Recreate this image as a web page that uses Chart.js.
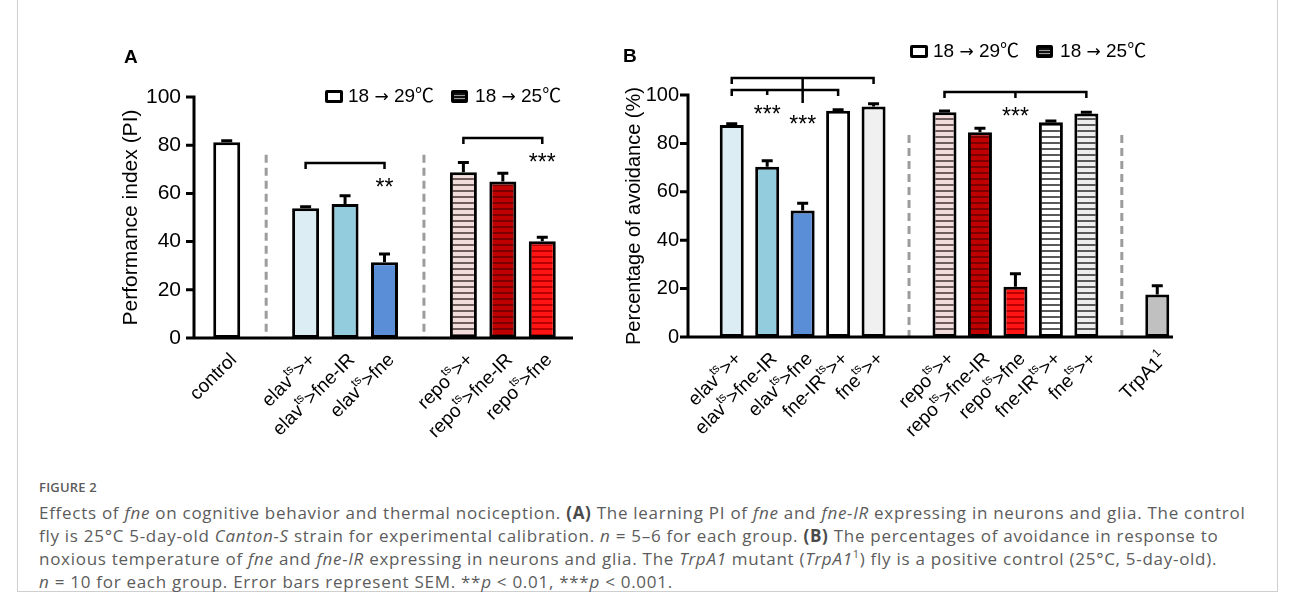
<!DOCTYPE html>
<html>
<head>
<meta charset="utf-8">
<script src="https://cdn.jsdelivr.net/npm/chart.js@4.4.0/dist/chart.umd.min.js"></script>
<style>
  body { margin: 0; background: #fff; }
  #page { position: relative; width: 1293px; height: 600px; overflow: hidden; font-family: 'Liberation Sans', Arial, sans-serif; }
  #frame { position: absolute; left: 17px; top: -1px; width: 1261px; height: 593px; border: 1px solid #cfcfcf; box-sizing: border-box; }
  canvas { position: absolute; top: 0; }
  .panel { position: absolute; font-weight: bold; font-size: 19px; line-height: 19px; }
  .legend { position: absolute; display: flex; align-items: center; white-space: nowrap;
            font-family: 'Liberation Sans', 'Noto Sans CJK SC', sans-serif; font-size: 19px; line-height: 20px; }
  .legend .arr { font-family: 'DejaVu Sans', sans-serif; font-size: 17px; }
  .box { display: inline-block; width: 18px; height: 13px; box-sizing: border-box; border: 3px solid #000; border-radius: 2px; margin-right: 5px; }
  .box.dark { width: 17px; margin-left: 17px; margin-right: 7px;
              background: repeating-linear-gradient(to bottom, #111 0 2px, #9a9a9a 2px 3px); }
  .cap { position: absolute; left: 39px; font-family: 'Open Sans', sans-serif; color: #5c5c5c; font-size: 17px; letter-spacing: 0.72px;
         line-height: 23px; white-space: nowrap; }
  .cap b { font-weight: bold; color: #4a4a4a; }
  .cap sup { font-size: 11px; line-height: 0; }
</style>
</head>
<body>
<div id="page">
  <div id="frame"></div>
  <canvas id="chartA" width="600" height="450" style="left:0"></canvas>
  <canvas id="chartB" width="640" height="450" style="left:580px"></canvas>

  <div class="panel" style="left:124px; top:47px">A</div>
  <div class="panel" style="left:623px; top:46px">B</div>

  <div class="legend" style="left:325px; top:86px">
    <span class="box"></span><span>18 <span class="arr">→</span> 29℃</span><span class="box dark"></span><span>18 <span class="arr">→</span> 25℃</span>
  </div>
  <div class="legend" style="left:910px; top:41px">
    <span class="box"></span><span>18 <span class="arr">→</span> 29℃</span><span class="box dark"></span><span>18 <span class="arr">→</span> 25℃</span>
  </div>

  <div class="cap" style="top:476px; font-size:13px; font-weight:600; letter-spacing:0.2px">FIGURE 2</div>
  <div class="cap" style="top:501px">Effects of <i>fne</i> on cognitive behavior and thermal nociception. <b>(A)</b> The learning PI of <i>fne</i> and <i>fne-IR</i> expressing in neurons and glia. The control</div>
  <div class="cap" style="top:524px">fly is 25°C 5-day-old <i>Canton-S</i> strain for experimental calibration. <i>n</i> = 5–6 for each group. <b>(B)</b> The percentages of avoidance in response to</div>
  <div class="cap" style="top:547px">noxious temperature of <i>fne</i> and <i>fne-IR</i> expressing in neurons and glia. The <i>TrpA1</i> mutant (<i>TrpA1</i><sup>1</sup>) fly is a positive control (25°C, 5-day-old).</div>
  <div class="cap" style="top:570px"><i>n</i> = 10 for each group. Error bars represent SEM. **<i>p</i> &lt; 0.01, ***<i>p</i> &lt; 0.001.</div>
</div>

<script>
// panel A: learning performance index ('' = gap holding a dashed separator, ^..^ = superscript)
const catsA = ['control', '', 'elav^ts^>+', 'elav^ts^>fne-IR', 'elav^ts^>fne', '', 'repo^ts^>+', 'repo^ts^>fne-IR', 'repo^ts^>fne'];
const meanA = [81.2, null, 53.8, 55.6, 31.4, null, 68.8, 64.9, 40.1];
const semA = [0.6, null, 0.7, 3.4, 3.5, null, 4.0, 3.5, 1.7];

// panel B: percentage of avoidance
const catsB = ['elav^ts^>+', 'elav^ts^>fne-IR', 'elav^ts^>fne', 'fne-IR^ts^>+', 'fne^ts^>+', '',
               'repo^ts^>+', 'repo^ts^>fne-IR', 'repo^ts^>fne', 'fne-IR^ts^>+', 'fne^ts^>+', '', 'TrpA1^1'];
const meanB = [87.6, 70.4, 52.3, 93.5, 95.2, null, 92.9, 84.6, 20.8, 88.7, 92.4, null, 17.6];
const semB = [0.5, 2.4, 3.0, 0.4, 1.2, null, 0.5, 1.7, 5.3, 0.6, 0.5, null, 3.6];

const yTicks = [0, 20, 40, 60, 80, 100];

// significance brackets (bar indexes, level in axis units)
const sigA = [
    { from: 2, to: 4, at: 72.6, mark: 4, stars: '**', starAt: 64.7 },
    { from: 6, to: 8, at: 83, mark: 8, stars: '***', starAt: 75.1 }
];
const sigB = [
    { from: 0, to: 4, at: 107, mid: 2, midDrop: 25, mark: 2, stars: '***', starAt: 90.1 },
    { from: 0, to: 3, at: 102.1, mid: 1, midDrop: 5, mark: 1, stars: '***', starAt: 94.2 },
    { from: 6, to: 10, at: 101.2, mid: 8, midDrop: 6, mark: 8, stars: '***', starAt: 93.4 }
];

const FONT = "'Liberation Sans', Arial, sans-serif";
Chart.defaults.font.family = FONT;
Chart.defaults.color = '#000';

// horizontal stripes used for the 18 -> 25 bars
function hatch(base, line) {
    const c = document.createElement('canvas');
    c.width = 6; c.height = 6;
    const g = c.getContext('2d');
    g.fillStyle = base; g.fillRect(0, 0, 6, 6);
    g.fillStyle = line; g.fillRect(0, 4, 6, 2);
    return g.createPattern(c, 'repeat');
}

const pink = hatch('#f2dcdb', '#6e5c5c');
const darkRed = hatch('#c00000', '#7a0000');
const red = hatch('#ff1414', '#b80000');
const fillA = ['#ffffff', 'transparent', '#dcedf4', '#93cddd', '#5a8fd7', 'transparent', pink, darkRed, red];
const fillB = ['#dcedf4', '#93cddd', '#5a8fd7', '#ffffff', '#f0f0f0', 'transparent',
               pink, darkRed, red, hatch('#ffffff', '#5a5a5a'), hatch('#eeeeee', '#5a5a5a'), 'transparent', '#c0c0c0'];

// rotated tick label, parts between ^ are drawn as superscript
function drawLabel(ctx, text, x, y, size) {
    const parts = text.split('^');
    const fontOf = i => (i % 2 ? Math.round(size * 0.62) : size) + 'px ' + FONT;
    let w = 0;
    parts.forEach((p, i) => { ctx.font = fontOf(i); w += ctx.measureText(p).width; });
    ctx.save();
    ctx.translate(x, y);
    ctx.rotate(-Math.PI / 4);
    ctx.textBaseline = 'middle';
    ctx.textAlign = 'left';
    ctx.fillStyle = '#000';
    let cx = -w;
    parts.forEach((p, i) => {
        ctx.font = fontOf(i);
        ctx.fillText(p, cx, i % 2 ? -size * 0.38 : 0);
        cx += ctx.measureText(p).width;
    });
    ctx.restore();
}

// axes, separators, error bars, brackets and labels
function figureBits(cfg) {
    return {
        id: 'figureBits',
        afterDraw(chart) {
            const ctx = chart.ctx, area = chart.chartArea;
            const xs = chart.scales.x, ys = chart.scales.y;
            const bars = chart.getDatasetMeta(0).data;
            const y0 = ys.getPixelForValue(0);
            const ax = area.left - cfg.axisGap;
            ctx.save();

            ctx.strokeStyle = '#9c9c9c';
            ctx.lineWidth = 3;
            ctx.setLineDash([8, 5]);
            cfg.cats.forEach((c, i) => {
                if (c !== '') return;
                const px = xs.getPixelForValue(i);
                ctx.beginPath();
                ctx.moveTo(px, ys.getPixelForValue(cfg.sepTop));
                ctx.lineTo(px, y0);
                ctx.stroke();
            });
            ctx.setLineDash([]);

            ctx.strokeStyle = '#000';
            cfg.means.forEach((m, i) => {
                if (m == null) return;
                const b = bars[i];
                const top = ys.getPixelForValue(m + cfg.sems[i]);
                ctx.beginPath();
                ctx.moveTo(b.x, b.y);
                ctx.lineTo(b.x, top);
                ctx.moveTo(b.x - 5.5, top);
                ctx.lineTo(b.x + 5.5, top);
                ctx.stroke();
            });

            // y axis with outward ticks, x baseline
            ctx.beginPath();
            ctx.moveTo(ax, ys.getPixelForValue(100) - 1.5);
            ctx.lineTo(ax, y0);
            yTicks.forEach(t => {
                const py = ys.getPixelForValue(t);
                ctx.moveTo(ax - 8, py);
                ctx.lineTo(ax, py);
            });
            ctx.moveTo(ax - 8, y0);
            ctx.lineTo(area.right + cfg.axisExtra, y0);
            ctx.stroke();

            cfg.sig.forEach(s => {
                const yb = ys.getPixelForValue(s.at);
                const x1 = xs.getPixelForValue(s.from), x2 = xs.getPixelForValue(s.to);
                ctx.lineWidth = 2.5;
                ctx.beginPath();
                ctx.moveTo(x1, yb + 6);
                ctx.lineTo(x1, yb);
                ctx.lineTo(x2, yb);
                ctx.lineTo(x2, yb + 6);
                if (s.mid != null) {
                    const xm = xs.getPixelForValue(s.mid);
                    ctx.moveTo(xm, yb);
                    ctx.lineTo(xm, yb + s.midDrop);
                }
                ctx.stroke();
                ctx.font = '23px ' + FONT;
                ctx.textAlign = 'center';
                ctx.textBaseline = 'alphabetic';
                ctx.fillStyle = '#000';
                ctx.fillText(s.stars, xs.getPixelForValue(s.mark), ys.getPixelForValue(s.starAt) + 13);
            });

            cfg.cats.forEach((c, i) => {
                if (c) drawLabel(ctx, c, xs.getPixelForValue(i) + 7, area.bottom + 19, 19);
            });
            ctx.restore();
        }
    };
}

function makeChart(id, cats, means, sems, fills, sig, o) {
    return new Chart(document.getElementById(id), {
        type: 'bar',
        data: {
            labels: cats,
            datasets: [{
                data: means,
                backgroundColor: fills,
                borderColor: '#000',
                borderWidth: 3,
                borderSkipped: false,
                barPercentage: 1,
                categoryPercentage: o.barFrac
            }]
        },
        options: {
            responsive: false,
            animation: false,
            events: [],
            layout: { padding: o.pad },
            plugins: { legend: { display: false }, tooltip: { enabled: false } },
            scales: {
                x: {
                    ticks: { display: false },
                    grid: { display: false, drawTicks: false },
                    border: { display: false },
                    afterFit: s => { s.height = 100; }
                },
                y: {
                    min: 0,
                    max: 100,
                    ticks: { stepSize: 20, color: '#000', font: { size: o.tickSize }, padding: o.tickPad },
                    grid: { display: false, drawTicks: false },
                    border: { display: false },
                    title: { display: true, text: o.title, color: '#000', font: { size: o.titleSize }, padding: 0 },
                    afterFit: s => { s.width = o.yWidth; }
                }
            }
        },
        plugins: [figureBits({ cats, means, sems, sig, axisGap: o.axisGap, axisExtra: o.axisExtra, sepTop: o.sepTop })]
    });
}

makeChart('chartA', catsA, meanA, semA, fillA, sigA, {
    barFrac: 0.684, pad: { left: 119, top: 97, right: 38, bottom: 12 }, yWidth: 88,
    tickSize: 21, tickPad: 26, title: 'Performance index (PI)', titleSize: 21,
    axisGap: 13, axisExtra: 11, sepTop: 76
});

makeChart('chartB', catsB, meanB, semB, fillB, sigB, {
    barFrac: 0.677, pad: { left: 42, top: 95, right: 45, bottom: 13 }, yWidth: 92,
    tickSize: 20, tickPad: 35, title: 'Percentage of avoidance (%)', titleSize: 20,
    axisGap: 26, axisExtra: -2, sepTop: 83.5
});
</script>
</body>
</html>
